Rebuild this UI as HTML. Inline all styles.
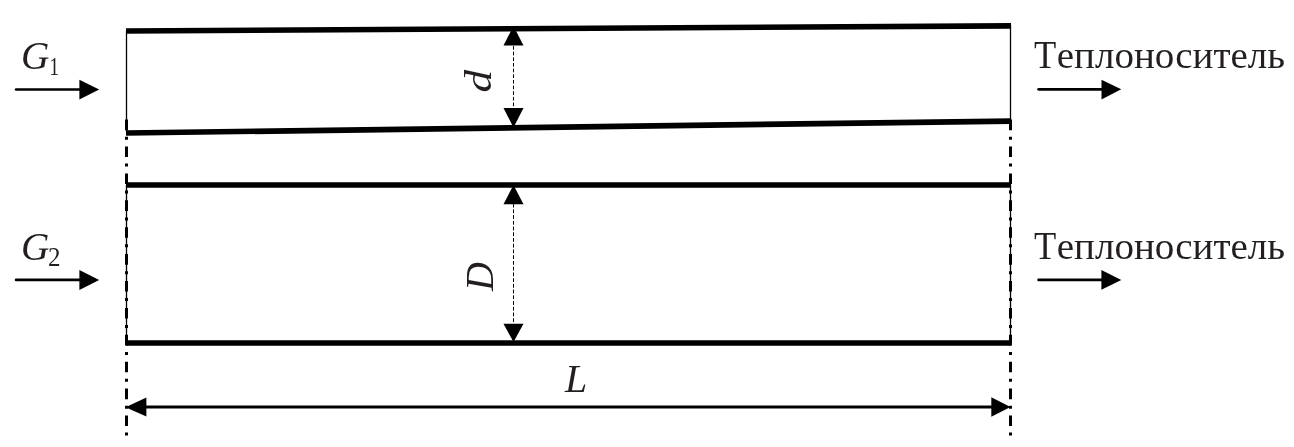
<!DOCTYPE html>
<html>
<head>
<meta charset="utf-8">
<style>
html,body{margin:0;padding:0;background:#fff;width:1294px;height:447px;overflow:hidden;}
svg{display:block;will-change:transform;}
text{font-family:"Liberation Serif",serif;fill:#231f20;}
.it{font-style:italic;}
</style>
</head>
<body>
<svg width="1294" height="447" viewBox="0 0 1294 447">
  <!-- dash-dot center lines -->
  <g stroke="#000" stroke-width="3" stroke-dasharray="10.6 6.5 3 6.8" fill="none">
    <line x1="126.5" y1="119.6" x2="126.5" y2="437"/>
    <line x1="1010.5" y1="119.6" x2="1010.5" y2="437"/>
  </g>
  <!-- thin tube ends -->
  <g stroke="#000" stroke-width="1.3" fill="none">
    <line x1="126.5" y1="31" x2="126.5" y2="132"/>
    <line x1="1010.5" y1="25" x2="1010.5" y2="121"/>
    <line x1="126.5" y1="185" x2="126.5" y2="343"/>
    <line x1="1010.5" y1="185" x2="1010.5" y2="343"/>
  </g>
  <!-- tube walls -->
  <g stroke="#000" stroke-width="5.7" fill="none">
    <line x1="126" y1="31.0" x2="1011" y2="25.8"/>
    <line x1="126" y1="133.0" x2="1011" y2="121.1"/>
    <line x1="126" y1="185" x2="1011" y2="185"/>
    <line x1="126" y1="343" x2="1011" y2="343"/>
  </g>
  <!-- dimension d / D dotted -->
  <g stroke="#000" stroke-width="1" fill="none">
    <line x1="513.5" y1="45" x2="513.5" y2="107" stroke-dasharray="3.65 2" stroke-dashoffset="4.6"/>
    <line x1="513.5" y1="204" x2="513.5" y2="324" stroke-dasharray="3.8 1.93" stroke-dashoffset="0.33"/>
  </g>
  <g fill="#000">
    <polygon points="513.5,26 503.5,45.6 523.5,45.6"/>
    <polygon points="513.5,127.5 503.5,108 523.5,108"/>
    <polygon points="513.5,185 503.5,204.2 523.5,204.2"/>
    <polygon points="513.5,342 503.5,323.8 523.5,323.8"/>
  </g>
  <!-- L dimension -->
  <line x1="140" y1="407" x2="1000" y2="407" stroke="#000" stroke-width="3"/>
  <g fill="#000">
    <polygon points="125.5,407.2 146.4,397.4 146.4,416.6"/>
    <polygon points="1010.5,407 991.3,397.3 991.3,416.7"/>
  </g>
  <!-- flow arrows -->
  <g stroke="#000" stroke-width="2.7" stroke-linecap="round" fill="none">
    <line x1="16.1" y1="89.5" x2="85" y2="89.5"/>
    <line x1="16.1" y1="279.9" x2="85" y2="279.9"/>
    <line x1="1038.6" y1="89.3" x2="1105" y2="89.3"/>
    <line x1="1038.6" y1="279.9" x2="1105" y2="279.9"/>
  </g>
  <g fill="#000">
    <polygon points="99.2,89.6 79.4,79.8 79.4,99.4"/>
    <polygon points="99.2,280.0 79.4,270.1 79.4,289.9"/>
    <polygon points="1121.2,89.3 1101.5,79.8 1101.5,99.5"/>
    <polygon points="1121.3,279.9 1101.4,269.9 1101.4,289.8"/>
  </g>
  <!-- labels -->
  <text transform="translate(21.1,69) scale(0.957,1)" font-size="41" class="it">G</text>
  <text transform="translate(49.5,74.5) scale(0.76,1)" font-size="25">1</text>
  <text transform="translate(21.1,260) scale(0.957,1)" font-size="41" class="it">G</text>
  <text transform="translate(48,265.6) scale(1,1.08)" font-size="25">2</text>
  <text transform="translate(1034,67.7) scale(0.935,1)" font-size="39">Т</text><text transform="translate(1056.8,67.8) scale(1,0.945)" font-size="39">еплоноситель</text>
  <text transform="translate(1034,259.2) scale(0.935,1)" font-size="39">Т</text><text transform="translate(1056.8,259.2) scale(1,0.945)" font-size="39">еплоноситель</text>
  <text x="565" y="391.8" font-size="40" class="it">L</text>
  <text transform="translate(491.3,92.6) rotate(-90) scale(1.17,1)" font-size="38.5" class="it">d</text>
  <text transform="translate(492.8,291) rotate(-90)" font-size="40" class="it">D</text>
</svg>
</body>
</html>
